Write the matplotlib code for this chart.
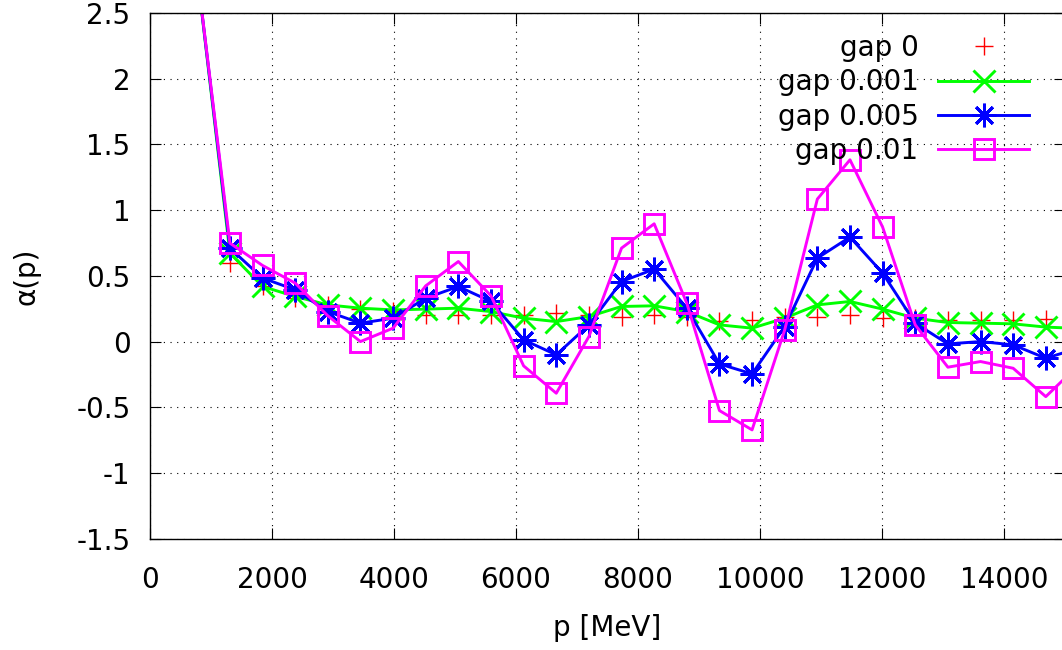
import matplotlib
matplotlib.use("Agg")
import matplotlib.pyplot as plt

# momentum values [MeV]
p = [775, 1310, 1845, 2380, 2915, 3450, 3985, 4520, 5055, 5590, 6125, 6660, 7195,
     7730, 8265, 8800, 9335, 9870, 10405, 10940, 11475, 12010, 12545, 13080, 13615,
     14150, 14685, 15220]

gap_0 = [2.8, 0.6, 0.42, 0.33, 0.28, 0.25, 0.23, 0.2, 0.2, 0.2, 0.2, 0.22, 0.2,
         0.19, 0.2, 0.19, 0.16, 0.165, 0.19, 0.19, 0.2, 0.18, 0.18, 0.165, 0.165,
         0.165, 0.17, 0.16]
gap_0001 = [2.8, 0.673, 0.419, 0.343, 0.279, 0.254, 0.241, 0.247, 0.254, 0.228, 0.178,
            0.152, 0.19, 0.267, 0.272, 0.228, 0.127, 0.102, 0.178, 0.279, 0.305, 0.247,
            0.178, 0.145, 0.14, 0.135, 0.11, 0.1]
gap_0005 = [2.8, 0.711, 0.483, 0.394, 0.228, 0.14, 0.178, 0.33, 0.419, 0.305, 0.013,
            -0.101, 0.127, 0.457, 0.551, 0.254, -0.17, -0.246, 0.114, 0.635, 0.795,
            0.521, 0.14, -0.018, 0.0, -0.025, -0.127, -0.05]
gap_001 = [2.8, 0.749, 0.579, 0.445, 0.196, 0.0, 0.102, 0.424, 0.609, 0.348, -0.185,
           -0.393, 0.038, 0.711, 0.896, 0.292, -0.525, -0.672, 0.089, 1.084, 1.383,
           0.871, 0.127, -0.195, -0.152, -0.203, -0.419, -0.18]

xticks = [0, 2000, 4000, 6000, 8000, 10000, 12000, 14000]
yticks = [-1.5, -1, -0.5, 0, 0.5, 1, 1.5, 2, 2.5]
ytick_labels = ["-1.5", "-1", "-0.5", "0", "0.5", "1", "1.5", "2", "2.5"]

plt.rcParams['font.family'] = ['DejaVu Sans']
fs = 20

fig = plt.figure(figsize=(10.62, 6.5), dpi=100)
W, H = 1062, 650
ax = fig.add_axes([150 / W, 1 - 538.7 / H, 915 / W, (538.7 - 13) / H])

ax.plot(p, gap_0, linestyle='none', marker='+', color='#ff0000', ms=13, mew=1.0,
        label='gap 0')
ax.plot(p, gap_0001, color='#00ff00', lw=2.1, marker='x', ms=16, mew=2.1,
        label='gap 0.001')
ax.plot(p, gap_0005, color='#0000ff', lw=2.1, marker=(8, 2, 0), ms=17, mew=2.1,
        label='gap 0.005')
ax.plot(p, gap_001, color='#ff00ff', lw=2.1, marker='s', ms=14, mew=2.1,
        mfc='none', label='gap 0.01')

ax.set_xlim(0, 15000)
ax.set_ylim(-1.5, 2.5)
ax.set_xticks(xticks)
ax.set_xticklabels([str(t) for t in xticks])
ax.set_yticks(yticks)
ax.set_yticklabels(ytick_labels)

ax.tick_params(direction='in', length=8, width=0.8, top=True, right=True,
               labelsize=fs)
ax.tick_params(axis='y', pad=14)
ax.tick_params(axis='x', pad=20)
ax.grid(True, color='black', linestyle=(0, (1, 5)), linewidth=0.8)
ax.set_axisbelow(True)
for s in ax.spines.values():
    s.set_linewidth(1.0)

ax.set_xlabel('p [MeV]', fontsize=fs, labelpad=14)
ax.set_ylabel('α(p)', fontsize=fs, labelpad=26)

ax.legend(loc='upper right', bbox_to_anchor=(0.961, 0.96), frameon=False,
          markerfirst=False, fontsize=fs, handlelength=3.27, handletextpad=0.72,
          labelspacing=0.23, borderaxespad=0, borderpad=0)

fig.savefig('out.png', dpi=100)
